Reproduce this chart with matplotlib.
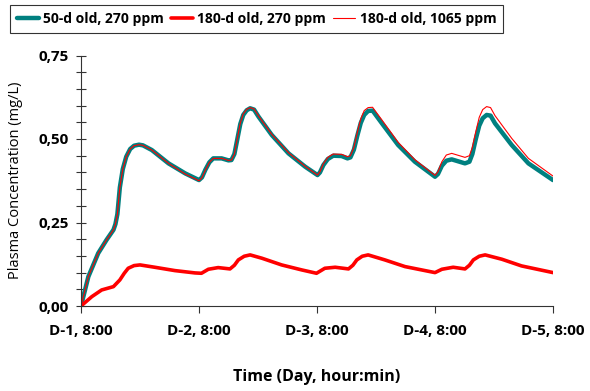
import matplotlib.pyplot as plt
import numpy as np

# ------------- données (heures depuis D-1, 8:00) -------------
t_50 = [0, 1.5, 3.5, 5.2, 6.6, 7.0, 7.4, 7.9, 8.5, 9.2, 10.0, 10.8, 11.8, 12.6, 14.4, 17.8, 21.2, 24.0,
        24.6, 25.3, 26.1, 26.9, 28.6, 30.0, 30.6, 31.2, 31.8, 32.4, 33.0, 33.7, 34.4, 35.2, 36.1, 38.8, 42.2, 45.6, 48.1,
        48.6, 49.3, 50.2, 51.3, 53.0, 54.2, 54.8, 55.5, 56.2, 56.9, 57.6, 58.4, 59.3, 61.2, 64.5, 67.9, 72.0,
        72.6, 73.4, 74.3, 75.4, 78.1, 79.0, 79.6, 80.3, 81.0, 81.7, 82.5, 83.3, 84.2, 87.6, 91.0, 96.0]
c_50 = [0, 0.088, 0.158, 0.198, 0.228, 0.245, 0.275, 0.355, 0.410, 0.447, 0.470, 0.480, 0.483, 0.481, 0.467, 0.427, 0.397, 0.377,
        0.385, 0.408, 0.430, 0.442, 0.442, 0.436, 0.437, 0.455, 0.500, 0.545, 0.572, 0.586, 0.592, 0.588, 0.567, 0.512, 0.457, 0.417, 0.392,
        0.400, 0.422, 0.440, 0.450, 0.449, 0.442, 0.445, 0.468, 0.510, 0.548, 0.572, 0.584, 0.585, 0.547, 0.482, 0.432, 0.387,
        0.395, 0.420, 0.435, 0.439, 0.427, 0.432, 0.455, 0.500, 0.540, 0.562, 0.572, 0.570, 0.547, 0.482, 0.427, 0.377]

c_1065 = [0, 0.088, 0.158, 0.198, 0.228, 0.245, 0.275, 0.355, 0.410, 0.447, 0.470, 0.480, 0.483, 0.481, 0.467, 0.427, 0.395, 0.375,
          0.384, 0.407, 0.430, 0.442, 0.442, 0.436, 0.437, 0.455, 0.502, 0.548, 0.575, 0.589, 0.594, 0.590, 0.569, 0.514, 0.459, 0.418, 0.392,
          0.402, 0.426, 0.445, 0.455, 0.454, 0.447, 0.450, 0.475, 0.520, 0.560, 0.585, 0.594, 0.595, 0.557, 0.490, 0.438, 0.391,
          0.402, 0.432, 0.452, 0.457, 0.445, 0.450, 0.475, 0.522, 0.565, 0.588, 0.597, 0.594, 0.570, 0.502, 0.442, 0.389]

t_180 = [0, 2.2, 4.2, 6.6, 7.9, 8.8, 9.6, 10.8, 12.0, 15.0, 19.1, 23.2, 24.5,
         25.9, 27.9, 30.3, 31.2, 32.0, 33.2, 34.4, 36.8, 40.8, 44.9, 47.9,
         49.6, 51.7, 54.4, 55.3, 56.1, 57.2, 58.4, 61.8, 65.9, 72.0,
         73.4, 75.7, 78.1, 79.0, 79.8, 81.0, 82.2, 85.6, 89.6, 96.0]
c_180 = [0, 0.028, 0.048, 0.058, 0.078, 0.098, 0.113, 0.121, 0.123, 0.116, 0.106, 0.099, 0.098,
         0.110, 0.115, 0.111, 0.122, 0.138, 0.149, 0.153, 0.143, 0.123, 0.108, 0.098,
         0.113, 0.116, 0.111, 0.122, 0.138, 0.149, 0.153, 0.138, 0.118, 0.100,
         0.110, 0.116, 0.111, 0.122, 0.138, 0.149, 0.153, 0.140, 0.120, 0.100]

x_ticks = [0, 24, 48, 72, 96]
x_labels = ['D-1, 8:00', 'D-2, 8:00', 'D-3, 8:00', 'D-4, 8:00', 'D-5, 8:00']
y_ticks = [0, 0.25, 0.5, 0.75]
y_labels = ['0,00', '0,25', '0,50', '0,75']

# ------------- tracé -------------
plt.rcParams['font.family'] = ['Open Sans', 'DejaVu Sans']
fig = plt.figure(figsize=(5.9, 3.91), dpi=100)
ax = fig.add_axes([81/590, 1-306/391, 472/590, 250.5/391])

kw = dict(solid_joinstyle='round', solid_capstyle='round')
l1, = ax.plot(t_50, c_50, '-', color='#008080', lw=3.2, label='50-d old, 270 ppm', **kw)
l2, = ax.plot(t_180, c_180, '-', color='#ff0000', lw=2.6, label='180-d old, 270 ppm', **kw)
l3, = ax.plot(t_50, c_1065, '-', color='#ff0000', lw=0.8, label='180-d old, 1065 ppm', **kw)

ax.set_xlim(0, 96)
ax.set_ylim(0, 0.75)
ax.set_xticks(x_ticks)
ax.set_xticklabels(x_labels, fontweight='bold', fontsize=11)
ax.set_yticks(y_ticks)
ax.set_yticklabels(y_labels, fontweight='bold', fontsize=11)
ax.set_yticks(np.arange(0, 0.751, 0.05), minor=True)
ax.tick_params(axis='y', which='both', direction='inout', length=7, width=0.8, colors='#333333', labelcolor='black', pad=5)
ax.tick_params(axis='x', which='major', direction='out', length=5, width=0.8, colors='#333333', labelcolor='black', pad=8)
for s in ['top', 'right']:
    ax.spines[s].set_visible(False)
for s in ['left', 'bottom']:
    ax.spines[s].set_color('#333333')
    ax.spines[s].set_linewidth(0.8)

fig.text(16/590, 1-180/391, 'Plasma Concentration (mg/L)', rotation=90, ha='center', va='center', fontsize=10.5)
fig.text(317/590, 1-377/391, 'Time (Day, hour:min)', ha='center', va='center', fontweight='bold', fontsize=11.5)

leg = fig.legend(handles=[l1, l2, l3], loc='upper left', bbox_to_anchor=(10/590, 1-5/391),
                 bbox_transform=fig.transFigure, ncol=3,
                 prop={'weight': 'bold', 'size': 10}, frameon=True, fancybox=False,
                 handlelength=1.6, handletextpad=0.3, columnspacing=0.5, borderpad=0.5, borderaxespad=0)
leg.get_frame().set_edgecolor('black')
leg.get_frame().set_linewidth(0.8)

plt.savefig('out.png', dpi=100)
